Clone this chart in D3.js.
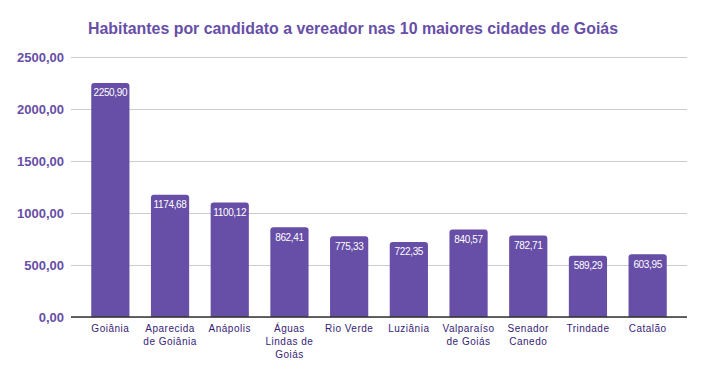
<!DOCTYPE html>
<html>
<head>
<meta charset="utf-8">
<script src="https://cdn.jsdelivr.net/npm/d3@7"></script>
<style>
	body { margin: 0; background: #fff; }
	svg { display: block; font-family: 'Liberation Sans', Arial, sans-serif; }
</style>
</head>
<body>
<div id="chart"></div>
<script>
	/***********************************************************************/
	//Data
	/***********************************************************************/
	const cities = [
		['Goiânia'],
		['Aparecida', 'de Goiânia'],
		['Anápolis'],
		['Águas', 'Lindas de', 'Goiás'],
		['Rio Verde'],
		['Luziânia'],
		['Valparaíso', 'de Goiás'],
		['Senador', 'Canedo'],
		['Trindade'],
		['Catalão']
	]
	const habitantes = [2250.90, 1174.68, 1100.12, 862.41, 775.33, 722.35, 840.57, 782.71, 589.29, 603.95]
	const yTickValues = [0, 500, 1000, 1500, 2000, 2500]

	const title = 'Habitantes por candidato a vereador nas 10 maiores cidades de Goiás'

	/***********************************************************************/
	//Plot Area
	/***********************************************************************/
	const width = 706
	const height = 380
	const margin = { left : 71, right : 19, top : 57, bottom : 63 }

	const plotAreaWidth = width - margin.left - margin.right
	const plotAreaHeight = height - margin.top - margin.bottom

	const svg = d3.select('#chart')
		.append('svg')
		.attr('width', width)
		.attr('height', height)

	svg.append('text')
		.attr('x', 353)
		.attr('y', 34)
		.attr('text-anchor', 'middle')
		.attr('font-size', '16px')
		.attr('font-weight', 'bold')
		.attr('fill', '#674ea7')
		.attr('textLength', 530)
		.attr('lengthAdjust', 'spacingAndGlyphs')
		.text(title)

	const g = svg.append('g')
		.attr('transform', 'translate(' + margin.left + ',' + margin.top + ')')

	/***********************************************************************/
	//Scale
	/***********************************************************************/
	const xScale = d3.scaleBand()
		.domain(d3.range(cities.length))
		.range([9.5, plotAreaWidth - 9.5])
		.paddingInner(0.36)
		.paddingOuter(0.18)

	const yScale = d3.scaleLinear()
		.domain([0, 2500])
		.range([plotAreaHeight, 0])

	const numFormat = d => d3.format('.2f')(d).replace('.', ',')

	/***********************************************************************/
	//Axes
	/***********************************************************************/
	const yAxis = d3.axisLeft(yScale)
		.tickValues(yTickValues)
		.tickFormat(numFormat)
		.tickSize(-plotAreaWidth)
		.tickPadding(7)

	const yAxisG = g.append('g').call(yAxis)
	yAxisG.select('.domain').remove()
	yAxisG.selectAll('line').attr('stroke', '#cccccc')
	yAxisG.selectAll('text')
		.attr('font-family', "'Liberation Sans', Arial, sans-serif")
		.attr('font-size', '13px')
		.attr('font-weight', 'bold')
		.attr('fill', '#674ea7')

	/***********************************************************************/
	//Bars
	/***********************************************************************/
	const r = 3
	const barPath = (x, y, w, h) =>
		`M${x},${y + h}V${y + r}Q${x},${y} ${x + r},${y}H${x + w - r}Q${x + w},${y} ${x + w},${y + r}V${y + h}Z`

	g.selectAll('.bar')
		.data(habitantes)
		.join('path')
		.attr('class', 'bar')
		.attr('fill', '#674ea7')
		.attr('d', (d, i) => barPath(xScale(i), yScale(d), xScale.bandwidth(), plotAreaHeight - yScale(d)))

	g.selectAll('.val')
		.data(habitantes)
		.join('text')
		.attr('class', 'val')
		.attr('x', (d, i) => xScale(i) + xScale.bandwidth() / 2)
		.attr('y', d => yScale(d) + 13.5)
		.attr('text-anchor', 'middle')
		.attr('font-size', '10px')
		.attr('letter-spacing', '-0.35px')
		.attr('fill', '#ffffff')
		.text(numFormat)

	// baseline
	g.append('line')
		.attr('x1', 0)
		.attr('x2', plotAreaWidth)
		.attr('y1', plotAreaHeight)
		.attr('y2', plotAreaHeight)
		.attr('stroke', '#333333')
		.attr('stroke-width', 1.5)

	/***********************************************************************/
	//Category labels
	/***********************************************************************/
	const catG = g.selectAll('.cat')
		.data(cities)
		.join('text')
		.attr('class', 'cat')
		.attr('x', (d, i) => xScale(i) + xScale.bandwidth() / 2)
		.attr('y', plotAreaHeight + 15)
		.attr('text-anchor', 'middle')
		.attr('font-size', '10px')
		.attr('letter-spacing', '0.5px')
		.attr('fill', '#351c75')

	catG.selectAll('tspan')
		.data((d, i) => d.map(s => ({ s, i })))
		.join('tspan')
		.attr('x', d => xScale(d.i) + xScale.bandwidth() / 2)
		.attr('dy', (d, j) => j === 0 ? 0 : 13)
		.text(d => d.s)
</script>
</body>
</html>
